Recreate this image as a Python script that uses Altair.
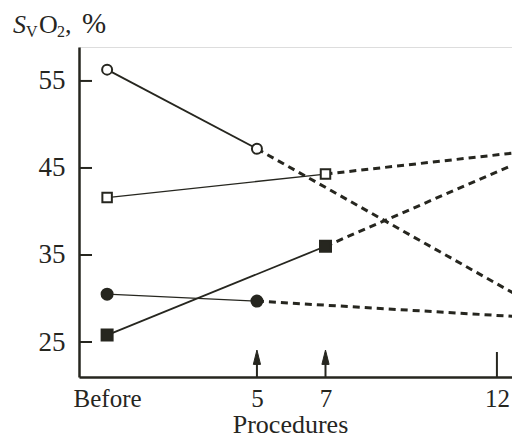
import altair as alt
import pandas as pd

# ---- data ----
series = ["open circle", "open square", "filled square", "half circle"]
before_x = 0.63            # axis position of the "Before" category
before_vals = [56.3, 41.6, 25.8, 30.5]
second_x = [5, 7, 7, 5]
second_vals = [47.2, 44.3, 36.0, 29.7]
edge_x = 12.67             # where the dashed lines leave the picture
edge_vals = [30.2, 46.8, 45.7, 27.9]

x_tick_values = [before_x, 5, 7, 12]
x_tick_labels = ["Before", "5", "7", "12"]
y_ticks = [25, 35, 45, 55]
arrow_x = [5, 7]
plain_mark_x = [12]

INK = "#26261f"
FONT = "Liberation Serif"

shapes = ["circle", "square", "square", "circle"]
fills = ["white", "white", INK, INK]
sizes = [100, 90, 121, 121]
solid_w = [1.8, 1.3, 1.8, 1.3]

solid_rows, dash_rows, pt_rows = [], [], []
for i, s in enumerate(series):
    solid_rows += [
        {"s": s, "x": before_x, "y": before_vals[i], "o": 0},
        {"s": s, "x": second_x[i], "y": second_vals[i], "o": 1},
    ]
    dash_rows += [
        {"s": s, "x": second_x[i], "y": second_vals[i], "o": 0},
        {"s": s, "x": edge_x, "y": edge_vals[i], "o": 1},
    ]
    for xv, yv in [(before_x, before_vals[i]), (second_x[i], second_vals[i])]:
        pt_rows.append({"s": s, "x": xv, "y": yv})

solid_df = pd.DataFrame(solid_rows)
dash_df = pd.DataFrame(dash_rows)
pt_df = pd.DataFrame(pt_rows)

W, H = 433, 330
xs = alt.Scale(domain=[-0.19, 12.44], nice=False, zero=False)
ys = alt.Scale(domain=[20.98, 58.9], nice=False, zero=False)

label_expr = " : ".join(
    [f"abs(datum.value - {v}) < 0.01 ? '{l}'" for v, l in zip(x_tick_values, x_tick_labels)]
) + " : ''"

x_axis = alt.Axis(
    values=x_tick_values, labelExpr=label_expr, ticks=False, grid=False,
    domainColor=INK, domainWidth=2.5, labelFont=FONT, labelFontSize=25,
    labelColor=INK, labelPadding=9, title="Procedures", titleFont=FONT,
    titleFontSize=26, titleFontWeight="normal", titleColor=INK,
    titleX=211, titleY=55, titleBaseline="alphabetic", titleAlign="center",
    labelFlush=False, labelOverlap=False,
)
y_axis = alt.Axis(
    values=y_ticks, ticks=False, grid=False, domainColor=INK, domainWidth=2.5,
    labelFont=FONT, labelFontSize=27, labelColor=INK, labelPadding=14, title=None,
)

base_axes = alt.Chart(pt_df).mark_point(opacity=0).encode(
    x=alt.X("x:Q", scale=xs, axis=x_axis),
    y=alt.Y("y:Q", scale=ys, axis=y_axis),
)

layers = [base_axes]

# inward y ticks
ytick_df = pd.DataFrame({"y": y_ticks})
layers.append(
    alt.Chart(ytick_df).mark_rule(color=INK, strokeWidth=2).encode(
        y=alt.Y("y:Q", scale=ys), x=alt.value(0), x2=alt.value(13)
    )
)

# solid segments
for i, s in enumerate(series):
    layers.append(
        alt.Chart(solid_df[solid_df.s == s]).mark_line(color=INK, strokeWidth=solid_w[i]).encode(
            x=alt.X("x:Q", scale=xs), y=alt.Y("y:Q", scale=ys), order="o:Q"
        )
    )
# dashed continuations
layers.append(
    alt.Chart(dash_df).mark_line(color=INK, strokeWidth=3, strokeDash=[7, 5], clip=True).encode(
        x=alt.X("x:Q", scale=xs), y=alt.Y("y:Q", scale=ys),
        detail="s:N", order="o:Q"
    )
)
# markers
for i, s in enumerate(series):
    layers.append(
        alt.Chart(pt_df[pt_df.s == s]).mark_point(
            shape=shapes[i], filled=True, fill=fills[i], stroke=INK,
            strokeWidth=2, size=sizes[i], opacity=1,
        ).encode(x=alt.X("x:Q", scale=xs), y=alt.Y("y:Q", scale=ys))
    )

# arrows at 5 and 7
arrow_df = pd.DataFrame({"x": arrow_x})
layers.append(
    alt.Chart(arrow_df).mark_rule(color=INK, strokeWidth=2).encode(
        x=alt.X("x:Q", scale=xs), y=alt.value(H), y2=alt.value(H - 20)
    )
)
layers.append(
    alt.Chart(arrow_df).mark_point(
        shape="M0,-1L0.45,0.8L-0.45,0.8Z", filled=True, fill=INK, stroke=INK,
        strokeWidth=1, size=256, opacity=1,
    ).encode(x=alt.X("x:Q", scale=xs), y=alt.value(H - 19))
)
plain_df = pd.DataFrame({"x": plain_mark_x})
layers.append(
    alt.Chart(plain_df).mark_rule(color=INK, strokeWidth=2).encode(
        x=alt.X("x:Q", scale=xs), y=alt.value(H), y2=alt.value(H - 25)
    )
)

# y-axis title S_V O_2, %
title_parts = [
    ("S", -66, -14, 26, "italic"),
    ("V", -53, -10, 16, "normal"),
    ("O", -40, -14, 26, "normal"),
    ("2", -22, -10, 16, "normal"),
    (",", -14, -14, 26, "normal"),
    ("%", 3, -14, 29, "normal"),
]
for txt, tx, ty, fs, st in title_parts:
    layers.append(
        alt.Chart(pd.DataFrame({"t": [txt]})).mark_text(
            font=FONT, fontSize=fs, fontStyle=st, color=INK, align="left",
            baseline="alphabetic",
        ).encode(text="t:N", x=alt.value(tx), y=alt.value(ty))
    )

chart = alt.layer(*layers).properties(
    width=W, height=H,
    autosize=alt.AutoSizeParams(type="none"),
    padding={"left": 71, "top": 39, "right": 0, "bottom": 60},
).configure_view(stroke=None).configure(background="white")

chart.save("out.html", embed_options={"renderer": "svg", "actions": False})
